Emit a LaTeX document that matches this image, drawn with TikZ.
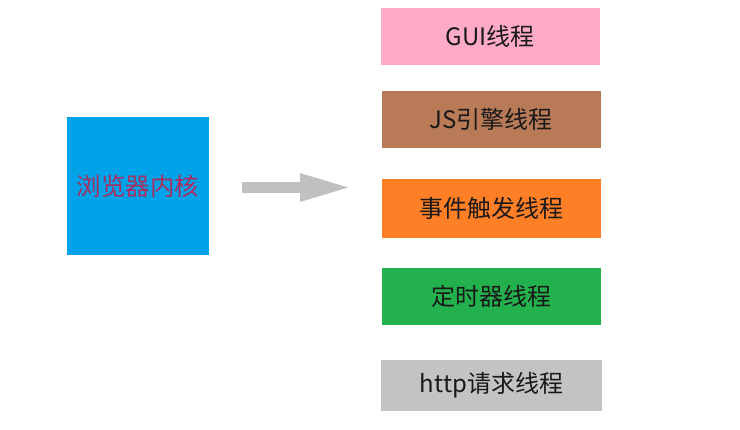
\documentclass[tikz,border=0pt]{standalone}
\usepackage{fontspec}
\setmainfont{Noto Sans CJK SC}
\usepackage{tikz}
\usepackage{xcolor}
\usetikzlibrary{arrows.meta}

\definecolor{kernelblue}{RGB}{0,162,232}
\definecolor{kerneltext}{RGB}{170,45,95}
\definecolor{guipink}{RGB}{255,170,201}
\definecolor{jsbrown}{RGB}{185,122,87}
\definecolor{eventorange}{RGB}{255,127,39}
\definecolor{timergreen}{RGB}{34,177,76}
\definecolor{httpgray}{RGB}{195,195,195}
\definecolor{arrowgray}{RGB}{192,192,192}

\tikzset{
  threadbox/.style={minimum width=219pt, minimum height=57pt, inner sep=0pt,
    font=\fontsize{24pt}{26pt}\selectfont, text=black!90}
}

\begin{document}
\begin{tikzpicture}[x=1pt, y=-1pt]
  \useasboundingbox (0,0) rectangle (740,429);

  % kernel box on the left
  \node[fill=kernelblue, minimum width=142pt, minimum height=138pt, inner sep=0pt,
        text=kerneltext, font=\fontsize{24.5pt}{26pt}\selectfont]
    (kernel) at (138,186) {浏览器内核};

  % the threads, top to bottom
  \node[threadbox, fill=guipink] (gui) at (490,36.5) {GUI线程};
  \node[threadbox, fill=jsbrown] (js) at (491,119.5) {JS引擎线程};
  \node[threadbox, fill=eventorange, minimum height=59pt] (event) at (491.5,208.5) {事件触发线程};
  \node[threadbox, fill=timergreen] (timer) at (491,296.5) {定时器线程};
  \node[threadbox, fill=httpgray, minimum width=221pt, minimum height=51pt] (http) at (491.5,385.5) {http请求线程};

  % big gray arrow in between
  \coordinate (arrS) at (242,187.5);
  \coordinate (arrE) at (353,187.5);
  \draw[arrowgray, line width=11pt, -{Triangle[length=53pt, width=25pt]}] (arrS) -- (arrE);
\end{tikzpicture}
\end{document}
